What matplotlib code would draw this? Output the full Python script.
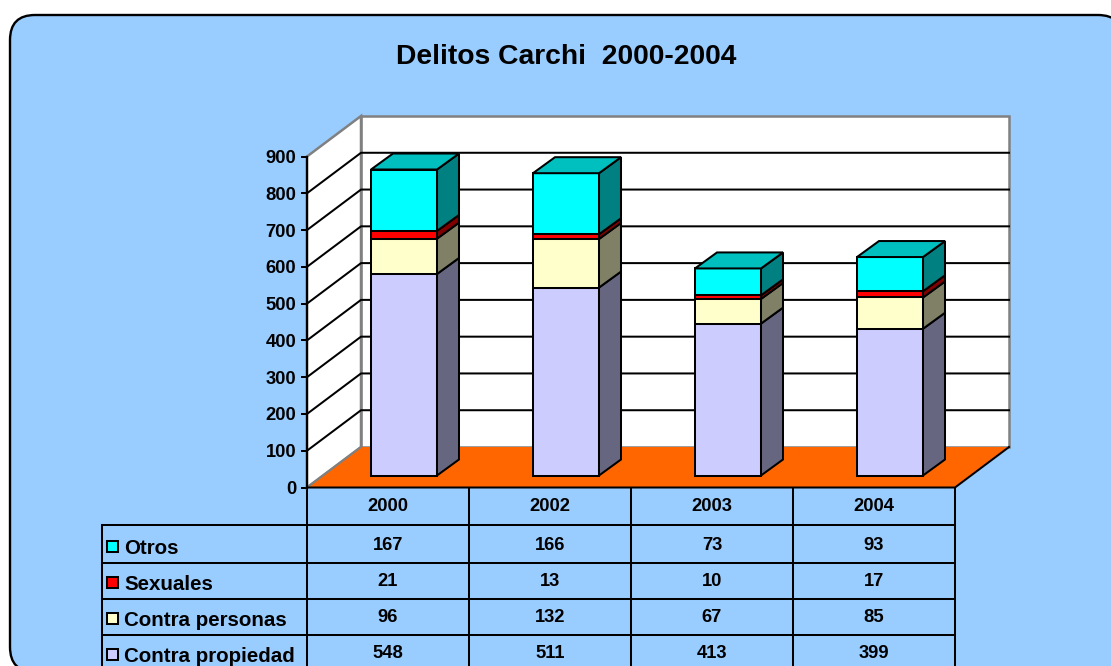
import matplotlib
matplotlib.use("Agg")
import matplotlib.pyplot as plt
from matplotlib.patches import FancyBboxPatch, Polygon, Rectangle
from matplotlib.transforms import blended_transform_factory

years = ["2000", "2002", "2003", "2004"]
otros = [167, 166, 73, 93]
sexuales = [21, 13, 10, 17]
personas = [96, 132, 67, 85]
propiedad = [548, 511, 413, 399]
series_names = ["Contra propiedad", "Contra personas", "Sexuales", "Otros"]
yticks = list(range(0, 1000, 100))

series = [propiedad, personas, sexuales, otros]
front_cols = ["#CCCCFF", "#FFFFCC", "#FF0000", "#00FFFF"]
side_cols = ["#666680", "#808066", "#800000", "#008080"]
top_col = "#00BFBF"
PANEL = "#99CCFF"
FONT = "Liberation Sans"
W, H = 1111, 666
LW = 1.45

fig = plt.figure(figsize=(W / 100, H / 100), dpi=100, facecolor="white")
bg = fig.add_axes([0, 0, 1, 1])
bg.set_xlim(0, W)
bg.set_ylim(H, 0)
bg.axis("off")
bg.add_patch(FancyBboxPatch((35, 40), 1063, 607, boxstyle="round,pad=25,rounding_size=25",
                            fc=PANEL, ec="black", lw=1.7, clip_on=True))
bg.text(566, 57.5, "Delitos Carchi  2000-2004", fontsize=20.3, fontweight="bold",
        family=FONT, ha="center", va="center")

# front plane of the 3D box, in pixels
X0, X1, Y0, Y1 = 307, 955, 487.5, 156.5
ax = fig.add_axes([X0 / W, 1 - Y0 / H, (X1 - X0) / W, (Y0 - Y1) / H])
ax.set_xlim(0, 4)
ax.set_ylim(0, 900)
ax.patch.set_alpha(0)
for s in ("top", "right", "bottom"):
    ax.spines[s].set_visible(False)
ax.spines["left"].set_linewidth(1.6)
ax.spines["left"].set_zorder(6)
ax.set_xticks([])
ax.set_yticks(yticks)
ax.tick_params(axis="y", length=4.3, width=LW, pad=3.6)
for t in ax.get_yticklabels():
    t.set_fontsize(13.2)
    t.set_fontweight("bold")
    t.set_family(FONT)

px_x = 4 / (X1 - X0)
px_y = 900 / (Y0 - Y1)
DX, DY = 54 * px_x, 40.5 * px_y
GREY = "#808080"

# walls and floor
ax.add_patch(Polygon([(DX, DY), (4 + DX, DY), (4 + DX, 900 + DY), (DX, 900 + DY)],
                     fc="white", ec=GREY, lw=1.8, zorder=1, clip_on=False))
ax.add_patch(Polygon([(0, 0), (DX, DY), (DX, 900 + DY), (0, 900)],
                     fc="white", ec=GREY, lw=1.8, zorder=1, clip_on=False))
ax.add_patch(Polygon([(0, 0), (4, 0), (4 + DX, DY), (DX, DY)],
                     fc="#FF6600", ec="none", zorder=2, clip_on=False))
ax.plot([0, DX], [0, DY], color=GREY, lw=1.4, zorder=2.5, clip_on=False)
ax.plot([0, 4, 4 + DX], [0, 0, DY], color="black", lw=LW, zorder=5, clip_on=False)
for v in yticks[1:-1]:
    ax.plot([0, DX, 4 + DX], [v, v + DY, v + DY], color="black", lw=LW, zorder=1.5, clip_on=False)

# stacked 3D bars
BW = 66 * px_x
OX, OY = 16 * px_x, 12 * px_y
SX, SY = 22 * px_x, 16 * px_y
for i in range(len(years)):
    left = i + 0.5 + OX - BW / 2
    right = left + BW
    bottom = OY
    for vals, fc, sc in zip(series, front_cols, side_cols):
        v = vals[i]
        ax.bar(left, v, width=BW, bottom=bottom, align="edge", color=fc, ec="black",
               lw=LW, zorder=4, clip_on=False)
        ax.add_patch(Polygon([(right, bottom), (right + SX, bottom + SY),
                              (right + SX, bottom + v + SY), (right, bottom + v)],
                             fc=sc, ec="black", lw=LW, zorder=4, clip_on=False))
        bottom += v
    ax.add_patch(Polygon([(left, bottom), (right, bottom), (right + SX, bottom + SY),
                          (left + SX, bottom + SY)],
                         fc=top_col, ec="black", lw=LW, zorder=4, clip_on=False))

# data table
TAB_L = 102
row_lines = [525, 562.5, 599, 635]
for i in range(len(years) + 1):
    x = X0 + (X1 - X0) * i / len(years)
    bg.plot([x, x], [Y0, H], color="black", lw=LW, zorder=3)
bg.plot([TAB_L, TAB_L], [row_lines[0], H], color="black", lw=LW, zorder=3)
for j, y in enumerate(row_lines):
    bg.plot([TAB_L, X1 if j == 0 else X1 - 2], [y, y], color="black", lw=LW, zorder=3)

mix = blended_transform_factory(ax.transData, bg.transData)
num_kw = dict(fontsize=13.2, fontweight="bold", family=FONT, va="center", zorder=4)
name_kw = dict(fontsize=14.8, fontweight="bold", family=FONT, va="center", zorder=4)
for i, yr in enumerate(years):
    bg.text(i + 0.5, 506.5, yr, transform=mix, ha="center", **num_kw)

rows = list(zip(series, series_names, front_cols))[::-1]
val_y = [545.5, 581.5, 617.5, 653.5]
for (vals, name, col), y in zip(rows, val_y):
    bg.add_patch(Rectangle((106.5, y - 4.5), 11, 11, fc=col, ec="black", lw=LW, zorder=4))
    bg.text(124, y + 2.5, name, ha="left", **name_kw)
    for i, v in enumerate(vals):
        bg.text(i + 0.5, y, str(v), transform=mix, ha="center", **num_kw)

fig.savefig("out.png", dpi=100, facecolor="white")
